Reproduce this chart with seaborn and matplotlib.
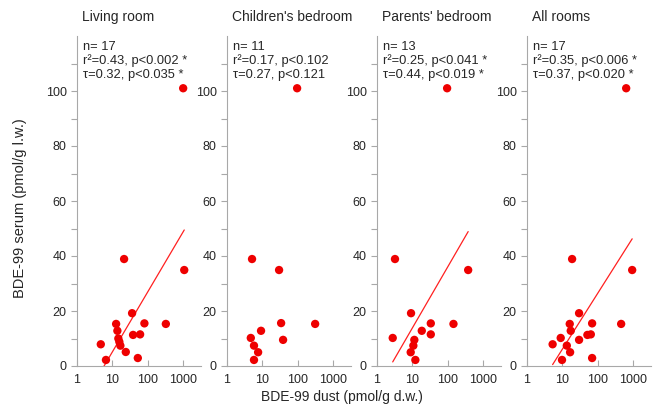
import numpy as np
import pandas as pd
import matplotlib
matplotlib.use("Agg")
import matplotlib.pyplot as plt
import seaborn as sns
from matplotlib.ticker import FixedLocator, NullLocator

# ---------------- data ----------------
rooms = ["Living room", "Children's bedroom", "Parents' bedroom", "All rooms"]

living_dust = [4.8, 6.7, 12.9, 14.0, 14.9, 15.9, 17.0, 24.1, 36.2, 38.6,
               52.4, 60.8, 80.2, 320, 21.6, 980, 1050]
living_serum = [7.9, 2.2, 15.3, 12.8, 10.0, 8.8, 7.4, 5.1, 19.2, 11.3,
                2.9, 11.5, 15.5, 15.3, 38.9, 101.0, 34.9]

children_dust = [4.8, 5.9, 5.9, 7.7, 9.3, 34.0, 38.6, 306, 5.2, 95.5, 29.8]
children_serum = [10.2, 7.4, 2.2, 5.0, 12.8, 15.6, 9.5, 15.3, 38.9, 101.0, 34.9]

parents_dust = [2.85, 9.3, 9.1, 10.8, 11.5, 12.3, 18.6, 33.3, 33.3, 144,
                3.3, 95.5, 372]
parents_serum = [10.2, 19.2, 5.0, 7.4, 9.5, 2.2, 12.8, 15.5, 11.5, 15.3,
                 38.9, 101.0, 34.9]

all_dust = [5.4, 9.1, 9.9, 13.5, 16.3, 16.7, 17.4, 29.8, 29.8, 51.0,
            63.6, 69.2, 69.2, 451, 19.0, 624, 919]
all_serum = [7.9, 10.2, 2.2, 7.4, 15.3, 5.0, 12.8, 19.2, 9.5, 11.3,
             11.5, 15.5, 2.9, 15.3, 38.9, 101.0, 34.9]

n_values = [17, 11, 13, 17]
r2_text = ["r²=0.43, p<0.002 *", "r²=0.17, p<0.102",
           "r²=0.25, p<0.041 *", "r²=0.35, p<0.006 *"]
tau_text = ["τ=0.32, p<0.035 *", "τ=0.27, p<0.121",
            "τ=0.44, p<0.019 *", "τ=0.37, p<0.020 *"]

# regression lines as drawn in the reference: serum = a + b*log10(dust)
# (None = no line drawn for that panel)
fit_intercept = [-17.0, None, -8.7, -14.5]
fit_slope = [22.0, None, 22.4, 20.5]

x_ticks = [1, 10, 100, 1000]
x_tick_labels = ["1", "10", "100", "1000"]
y_ticks = [0, 20, 40, 60, 80, 100]
y_minor_ticks = [10, 30, 50, 70, 90, 110]

x_label = "BDE-99 dust (pmol/g d.w.)"
y_label = "BDE-99 serum (pmol/g l.w.)"

dust_sets = [living_dust, children_dust, parents_dust, all_dust]
serum_sets = [living_serum, children_serum, parents_serum, all_serum]

# ---------------- style ----------------
sns.set_style("ticks")
plt.rcParams["font.family"] = ["Liberation Sans", "DejaVu Sans"]

W, H = 656, 412
fig = plt.figure(figsize=(W / 100, H / 100), dpi=100)

spine_col = "#a8a8a8"
dot_col = "#ee0000"

for i, room in enumerate(rooms):
    left = 76.5 + 150 * i
    ax = fig.add_axes([left / W, 46 / H, 124 / W, 330 / H])
    df = pd.DataFrame({"dust": dust_sets[i], "serum": serum_sets[i]})
    ax.set_xscale("log")
    sns.scatterplot(data=df, x="dust", y="serum", ax=ax, color=dot_col,
                    s=36, edgecolor="none", linewidth=0, legend=False, zorder=3)
    if fit_slope[i] is not None:
        xs = np.geomspace(df["dust"].min(), df["dust"].max(), 60)
        fit_df = pd.DataFrame({"dust": xs,
                               "serum": fit_intercept[i] + fit_slope[i] * np.log10(xs)})
        sns.lineplot(data=fit_df, x="dust", y="serum", ax=ax,
                     color="#ff2020", lw=0.9, zorder=2)
    ax.set_xlim(1, 3000)
    ax.set_ylim(0, 120)
    ax.set_xlabel("")
    ax.set_ylabel("")

    ax.set_xticks(x_ticks)
    ax.set_xticklabels(x_tick_labels)
    ax.xaxis.set_minor_locator(NullLocator())
    ax.set_yticks(y_ticks)
    ax.yaxis.set_minor_locator(FixedLocator(y_minor_ticks))

    ax.tick_params(axis="x", which="major", direction="in", length=4,
                   width=0.8, color=spine_col, labelsize=9, pad=6)
    ax.tick_params(axis="y", which="both", direction="out", length=4,
                   width=0.8, color=spine_col, labelsize=9, pad=3)

    sns.despine(ax=ax)
    for s in ("left", "bottom"):
        ax.spines[s].set_color(spine_col)
        ax.spines[s].set_linewidth(0.8)

    ax.set_title(room, loc="left", x=0.045, pad=11, fontsize=10)
    ax.text(0.055, 1 - 5 / 330,
            f"n= {n_values[i]}\n{r2_text[i]}\n{tau_text[i]}",
            transform=ax.transAxes, ha="left", va="top", fontsize=9.3,
            linespacing=1.15)

fig.text(342 / W, 1 - 397 / H, x_label, ha="center", va="center", fontsize=10)
fig.text(20 / W, 1 - 208 / H, y_label, ha="center", va="center",
         rotation=90, fontsize=10.5)

fig.savefig("out.png", dpi=100)
